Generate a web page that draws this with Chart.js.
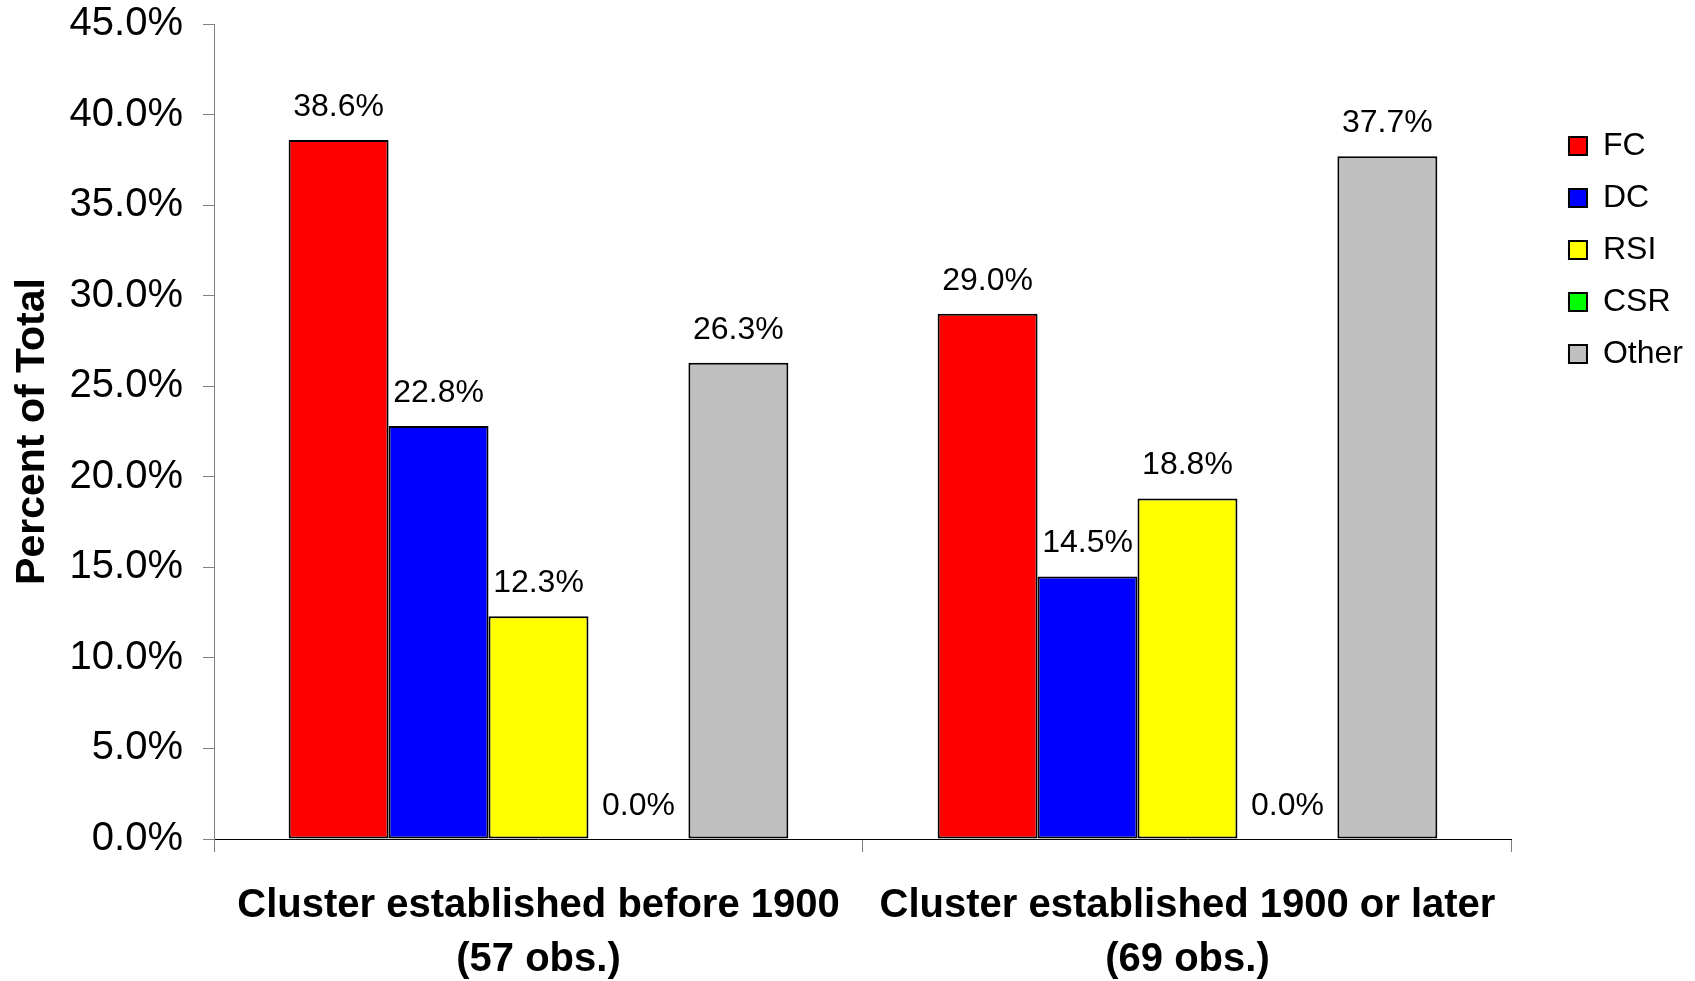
<!DOCTYPE html>
<html>
<head>
<meta charset="utf-8">
<style>
  html, body { margin: 0; padding: 0; background: #fff; }
  #wrap { width: 1695px; height: 981px; position: relative; }
</style>
<script src="https://cdn.jsdelivr.net/npm/chart.js@4.4.1/dist/chart.umd.min.js"></script>
</head>
<body>
<div id="wrap"><canvas id="c" width="1695" height="981"></canvas></div>
<script>
const categories = [
  ["Cluster established before 1900", "(57 obs.)"],
  ["Cluster established 1900 or later", "(69 obs.)"]
];
const seriesNames = ["FC", "DC", "RSI", "CSR", "Other"];
const fcValues = [38.6, 29.0];
const dcValues = [22.8, 14.5];
const rsiValues = [12.3, 18.8];
const csrValues = [0.0, 0.0];
const otherValues = [26.3, 37.7];
const seriesColors = ["#FF0000", "#0000FF", "#FFFF00", "#00FF00", "#C0C0C0"];
const yTicks = [0, 5, 10, 15, 20, 25, 30, 35, 40, 45];
const yTitle = "Percent of Total";

const FONT = "'Liberation Sans', Arial, Helvetica, sans-serif";
Chart.defaults.font.family = FONT;
Chart.defaults.color = "#000";

const seriesValues = [fcValues, dcValues, rsiValues, csrValues, otherValues];
const datasets = seriesNames.map((name, i) => ({
  label: name,
  data: seriesValues[i],
  backgroundColor: seriesColors[i],
  borderColor: "#000",
  borderWidth: 2,
  borderSkipped: false
}));

const valueLabels = {
  id: "valueLabels",
  afterDatasetsDraw(chart) {
    const ctx = chart.ctx;
    ctx.save();
    ctx.font = "32px " + FONT;
    ctx.fillStyle = "#000";
    ctx.textAlign = "center";
    ctx.textBaseline = "middle";
    chart.data.datasets.forEach((ds, di) => {
      const meta = chart.getDatasetMeta(di);
      meta.data.forEach((bar, i) => {
        const v = ds.data[i];
        ctx.fillText(v.toFixed(1) + "%", bar.x, bar.y - 33);
      });
    });
    ctx.restore();
  }
};

new Chart(document.getElementById("c"), {
  type: "bar",
  data: { labels: categories, datasets: datasets },
  options: {
    responsive: false,
    animation: false,
    events: [],
    layout: { padding: { top: 24, left: 0, right: 2, bottom: 0 } },
    datasets: { bar: { categoryPercentage: 0.77, barPercentage: 1.0 } },
    scales: {
      x: {
        offset: true,
        grid: { display: true, drawOnChartArea: false, offset: true, tickLength: 13, color: "#808080", lineWidth: 1 },
        border: { display: true, color: "#000", width: 1 },
        ticks: {
          font: { size: 40, weight: "bold", lineHeight: 1.35 },
          color: "#000",
          padding: 27,
          maxRotation: 0,
          autoSkip: false
        },
        afterFit(scale) { scale.height = 142; }
      },
      y: {
        min: 0,
        max: 45,
        afterBuildTicks(scale) { scale.ticks = yTicks.map(v => ({ value: v })); },
        grid: { display: true, drawOnChartArea: false, tickLength: 11, color: "#808080", lineWidth: 1 },
        border: { display: true, color: "#808080", width: 1 },
        ticks: {
          font: { size: 40 },
          color: "#000",
          padding: 20,
          callback: (v) => Number(v).toFixed(1) + "%"
        },
        title: {
          display: true,
          text: yTitle,
          font: { size: 41, weight: "bold" },
          color: "#000",
          padding: { top: 8, bottom: 0 }
        },
        afterFit(scale) {
          scale.width = 214;
          scale.paddingTop = 0;
          scale.paddingBottom = 0;
        }
      },
      spacer: {
        type: "linear",
        position: "right",
        display: true,
        grid: { display: false, drawTicks: false },
        border: { display: false },
        ticks: { display: false },
        afterFit(scale) { scale.width = 37; }
      }
    },
    plugins: {
      legend: {
        display: true,
        position: "right",
        align: "start",
        title: { display: true, text: "", font: { size: 10, lineHeight: 1 }, padding: { top: 76, bottom: 0 } },
        labels: {
          boxWidth: 18,
          boxHeight: 18,
          padding: 20,
          color: "#000",
          font: { size: 32 }
        }
      },
      tooltip: { enabled: false }
    }
  },
  plugins: [valueLabels]
});
</script>
</body>
</html>
